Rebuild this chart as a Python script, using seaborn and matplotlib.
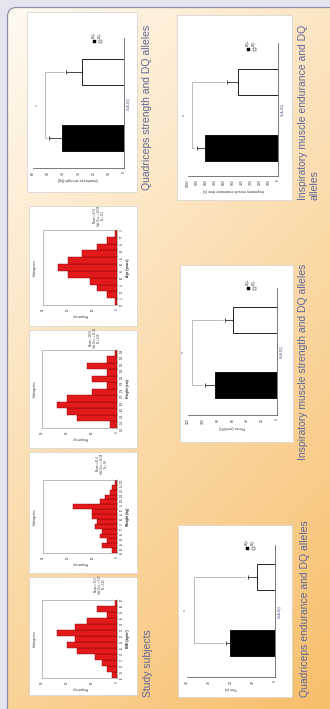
import numpy as np
import pandas as pd
import matplotlib
matplotlib.use("Agg")
import matplotlib.pyplot as plt
import seaborn as sns
from matplotlib.patches import FancyBboxPatch, Rectangle

# ---------------- data ----------------
groups = ["DQ-", "DQ+"]                      # open bar (top), filled bar (bottom)
legend_order = ["DQ+", "DQ-"]
group_colors = {"DQ-": "white", "DQ+": "black"}

quad_strength = [28.0, 40.7]
quad_strength_err = [10.0, 9.0]

insp_endurance = [445, 810]
insp_endurance_err = [120, 90]

insp_strength = [59, 84]
insp_strength_err = [11, 13]

quad_endurance = [8.2, 20.5]
quad_endurance_err = [4.0, 2.0]

# study subjects: counts per bin, lowest bin first
age_edges = [20, 25, 30, 35, 40, 45, 50, 55, 60, 65, 70, 75]
age_counts = [1, 4, 8, 11, 20, 24, 20, 14, 8, 4, 1]
height_edges = [150, 154, 158, 162, 166, 170, 174, 178, 182, 186, 190, 194, 198]
height_counts = [3, 16, 20, 24, 20, 10, 4, 10, 4, 12, 4, 1]
weight_edges = [45, 50, 55, 60, 65, 70, 75, 80, 85, 90, 95, 100, 105, 110, 115, 120]
weight_counts = [2, 6, 4, 7, 6, 9, 8, 10, 10, 18, 7, 5, 3, 2, 1]
bmi_edges = [16, 18, 20, 22, 24, 26, 28, 30, 32, 34, 36, 38, 40, 42]
bmi_counts = [2, 4, 6, 9, 16, 20, 17, 24, 17, 12, 4, 8, 1]

# ---------------- figure ----------------
W, H = 330, 709
sns.set_style("white")
plt.rcParams["font.family"] = ["Liberation Sans", "DejaVu Sans"]

fig = plt.figure(figsize=(W / 100, H / 100), dpi=100)
fig.patch.set_facecolor("#e4e4ef")

bg = fig.add_axes([0, 0, 1, 1])
bg.axis("off")

# rounded poster frame filled with a cream-to-orange wash
yy, xx = np.mgrid[0:H, 0:W]
t = np.clip(0.33 * xx / W + 0.64 * yy / H, 0, 1)[..., None]
c0 = np.array([255, 251, 243]) / 255
c1 = np.array([247, 188, 102]) / 255
wash = c0 * (1 - t) + c1 * t
frame = FancyBboxPatch((7.5, 7.5), W + 20, H + 20,
                       boxstyle="round,pad=0,rounding_size=9",
                       fc="none", ec="#8e8ea6", lw=0.9, zorder=2)
bg.add_patch(frame)
img = bg.imshow(wash, extent=(0, W, H, 0), zorder=0, aspect="auto",
                interpolation="bilinear")
img.set_clip_path(frame)
bg.set_xlim(0, W)
bg.set_ylim(H, 0)

CAPTION = "#5e6997"


def fig_box(x0, y0, x1, y1):
    return [x0 / W, 1 - y1 / H, (x1 - x0) / W, (y1 - y0) / H]


def panel(x0, y0, x1, y1):
    bg.add_patch(Rectangle((x0, y0), x1 - x0, y1 - y0, fc="white",
                           ec="#d2d2d2", lw=0.5, zorder=3))


def caption(x, y, text):
    bg.text(x, y, text, rotation=90, ha="center", va="bottom",
            fontsize=7.5, color=CAPTION, zorder=4)


def draw_bars(box, centers_px, values, errors, xmax, step, bracket,
              xlabel, legend_px):
    x0, y0, x1, y1 = box
    ax = fig.add_axes(fig_box(*box))
    ax.patch.set_alpha(0)
    df = pd.DataFrame({"group": groups, "value": values})
    sns.barplot(data=df, x="value", y="group", hue="group", order=groups,
                hue_order=groups, palette=group_colors, orient="h",
                width=0.4, edgecolor="black", linewidth=0.6,
                errorbar=None, legend=False, ax=ax)
    ax.errorbar(values, [0, 1], xerr=[[0, 0], errors], fmt="none",
                ecolor="black", elinewidth=0.5, capsize=1.2, capthick=0.5)
    unit = centers_px[1] - centers_px[0]
    ax.set_ylim(1 + (y1 - centers_px[1]) / unit,
                -(centers_px[0] - y0) / unit)
    ax.set_xlim(xmax, 0)

    # significance bracket
    k = (x1 - x0) / xmax
    ends = [v + e + 2 / k for v, e in zip(values, errors)]
    ax.plot([ends[0], bracket, bracket, ends[1]], [0, 0, 1, 1],
            color="#8a8a8a", lw=0.4)
    ax.text(bracket + 8 / k, 0.5, "*", rotation=90, ha="center",
            va="center", fontsize=3.5, color="#555555")

    ticks = np.arange(0, xmax + step / 2, step)
    ax.set_xticks(ticks)
    ax.set_xticklabels([f"{v:g}" for v in ticks])
    ax.tick_params(axis="x", length=1.5, width=0.3, pad=1, labelsize=2.4,
                   labelrotation=90, colors="#333333")
    ax.set_yticks([])
    ax.set_xlabel(xlabel, rotation=180, fontsize=2.6, labelpad=1,
                  color="#333333")
    ax.yaxis.set_label_position("right")
    ax.set_ylabel("HLA-DQ", rotation=90, fontsize=2.5, labelpad=2,
                  color="#5a4f8a")
    for side in ("top", "left"):
        ax.spines[side].set_visible(False)
    for side in ("bottom", "right"):
        ax.spines[side].set_color("#444444")
        ax.spines[side].set_linewidth(0.5)

    lx, ly = legend_px
    for i, g in enumerate(legend_order):
        bg.add_patch(Rectangle((lx + 6 * i - 1.5, ly - 1.5), 3, 3,
                               fc=group_colors[g], ec="black", lw=0.3,
                               zorder=5))
        bg.text(lx + 6 * i, ly - 3, g, rotation=90, ha="center",
                va="bottom", fontsize=2.3, color="#333333", zorder=5)


def draw_hist(box, edges, counts, var_label, stats_px):
    x0, y0, x1, y1 = box
    ax = fig.add_axes(fig_box(*box))
    ax.patch.set_alpha(0)
    centers = [(a + b) / 2 for a, b in zip(edges[:-1], edges[1:])]
    sns.histplot(y=centers, weights=counts, bins=edges, color="#e31a1c",
                 edgecolor="#7f0000", linewidth=0.3, alpha=1, ax=ax)
    ax.set_xlim(30, 0)
    ax.set_ylim(edges[0], edges[-1])
    ax.set_xticks([0, 10, 20, 30])
    ax.tick_params(axis="x", length=1.2, width=0.3, pad=1, labelsize=2.2,
                   labelrotation=90, colors="#333333")
    ax.yaxis.tick_right()
    ax.set_yticks(edges)
    ax.set_yticklabels([f"{e:g}" for e in edges])
    ax.tick_params(axis="y", length=1.0, width=0.3, pad=0.8, labelsize=1.8,
                   labelrotation=90, colors="#333333")
    ax.set_xlabel("Frequency", rotation=180, fontsize=2.4, labelpad=1,
                  color="#333333")
    ax.yaxis.set_label_position("right")
    ax.set_ylabel(var_label, rotation=90, fontsize=2.4, labelpad=1.5,
                  fontweight="bold", color="#222222")
    for s in ax.spines.values():
        s.set_color("#8a8a8a")
        s.set_linewidth(0.4)

    bg.text(35, (y0 + y1) / 2, "Histogram", rotation=90, ha="center",
            va="center", fontsize=2.6, color="#333333", zorder=5)
    n = sum(counts)
    mean = sum(c * m for c, m in zip(counts, centers)) / n
    sd = (sum(c * (m - mean) ** 2 for c, m in zip(counts, centers)) / (n - 1)) ** 0.5
    bg.text(stats_px[0], stats_px[1],
            f"Mean = {mean:.1f}\nStd. Dev. = {sd:.2f}\nN = {n}",
            rotation=90, ha="center", va="bottom", fontsize=1.9,
            linespacing=1.1, color="#333333", zorder=5)


# ---------------- left column ----------------
panel(27, 12, 137, 192)
draw_bars((33, 38, 124, 168), (72, 138), quad_strength, quad_strength_err,
          60, 10, 52, "Quadriceps strength (kg)", (94, 41))
caption(147, 190, "Quadriceps strength and DQ alleles")

hist_panels = [(29, 206, 137, 326), (29, 330, 137, 448),
               (29, 452, 137, 573), (29, 577, 137, 695)]
for p in hist_panels:
    panel(*p)
draw_hist((43, 230, 117, 305), age_edges, age_counts, "Age (years)", (99, 226))
draw_hist((42, 350, 117, 428), height_edges, height_counts, "Height (cm)", (95, 348))
draw_hist((43, 480, 117, 553), weight_edges, weight_counts, "Weight (kg)", (102, 474))
draw_hist((42, 600, 117, 678), bmi_edges, bmi_counts, "BMI (kg/m²)", (100, 594))
caption(148, 697, "Study subjects")

# ---------------- right column ----------------
panel(177, 15, 292, 200)
draw_bars((188, 43, 278, 176), (82, 148), insp_endurance, insp_endurance_err,
          1000, 100, 955, "Inspiratory muscle endurance time (s)", (248, 49))
caption(303, 200, "Inspiratory muscle endurance and DQ")
caption(315, 200, "alleles")

panel(180, 265, 293, 442)
draw_bars((188, 288, 277, 415), (320, 385), insp_strength, insp_strength_err,
          120, 20, 115, "PImax (cmH2O)", (248, 288))
caption(303, 460, "Inspiratory muscle strength and DQ alleles")

panel(178, 525, 292, 697)
draw_bars((187, 545, 275, 677), (577, 643), quad_endurance, quad_endurance_err,
          40, 10, 37, "Tlim (s)", (247, 548))
caption(305, 697, "Quadriceps endurance and DQ alleles")

fig.savefig("out.png", dpi=100, facecolor=fig.get_facecolor())
